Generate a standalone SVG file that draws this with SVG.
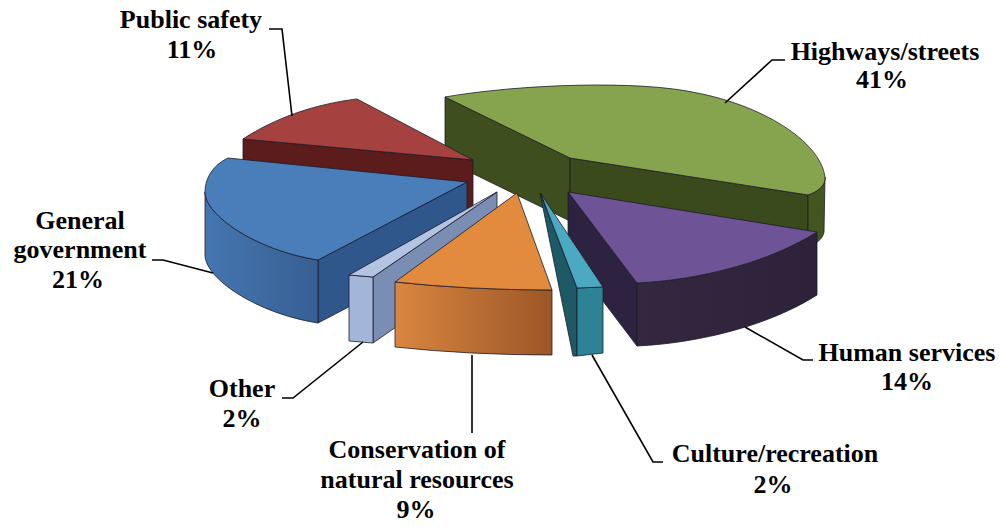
<svg xmlns="http://www.w3.org/2000/svg" width="1003" height="527" viewBox="0 0 1003 527">
<style>
text{font-family:'Liberation Serif','DejaVu Serif',serif;font-weight:bold;font-size:26px;fill:#000;text-anchor:middle}
.edge{stroke:#1c1c28;stroke-width:0.8;stroke-linejoin:round}
.lead{fill:none;stroke:#000;stroke-width:1.6}
</style>
<defs>
<linearGradient id="gOrange" x1="0" y1="0" x2="1" y2="0">
<stop offset="0" stop-color="#d98640"/><stop offset="1" stop-color="#9c5627"/>
</linearGradient>
<linearGradient id="gBlue" x1="0" y1="0" x2="1" y2="0">
<stop offset="0" stop-color="#4576b0"/><stop offset="1" stop-color="#375f93"/>
</linearGradient>
<linearGradient id="gPurple" x1="0" y1="0" x2="1" y2="0">
<stop offset="0" stop-color="#33283f"/><stop offset="1" stop-color="#2d2239"/>
</linearGradient>
</defs>
<rect width="1003" height="527" fill="#fff"/>

<g id="slice-highways">
<path class="edge" fill="#3e4e1f" d="M445,97 L570,158 L570,221 L445,160 Z"/>
<path class="edge" fill="#3b4a1c" d="M570,158 L808,195 L808,258 L570,221 Z"/>
<path class="edge" fill="#44561f" d="M825,177 C826,186 817,192 808,195 L808,246 C816,244 823,239 824,232 Z"/>
<path class="edge" fill="#86a44e" d="M445,97 C520,84 640,80 697,93 C760,105 820,140 825,177 C826,186 817,192 808,195 L570,158 Z"/>
</g>

<g id="slice-public-safety">
<path class="edge" fill="#5b1c1b" d="M243,139 L473,160 L473,223 L243,202 Z"/>
<path class="edge" fill="#a5413e" d="M243,139 C275,118 315,104 357,99 L473,160 Z"/>
</g>

<g id="slice-general-government">
<path class="edge" fill="#30578c" d="M467,182 L318,260 L318,323 L467,245 Z"/>
<path class="edge" fill="url(#gBlue)" d="M205,192 C205,215 255,250 318,260 L318,323 C255,313 205,278 205,255 Z"/>
<path class="edge" fill="#4a7ebb" d="M228,158 C213,165 205,178 205,192 C205,215 255,250 318,260 L467,182 Z"/>
</g>

<g id="slice-other">
<path class="edge" fill="#7a8db2" d="M497,192 L373,277 L373,343 L497,257 Z"/>
<path class="edge" fill="#a3b5d8" d="M349,275 L373,277 L373,343 L349,341 Z"/>
<path class="edge" fill="#b3c4e3" d="M497,192 L349,275 L373,277 Z"/>
</g>

<g id="slice-conservation">
<path class="edge" fill="url(#gOrange)" d="M395,282 Q470,290 552,290 L552,355 Q470,355 395,347 Z"/>
<path class="edge" fill="#e28a3d" d="M517,193 L395,282 Q470,290 552,290 Z"/>
</g>

<g id="slice-human-services">
<path class="edge" fill="#2d2340" d="M568,192 L637,283 L637,346 L568,255 Z"/>
<path class="edge" fill="url(#gPurple)" d="M637,283 C700,280 770,262 817,232 L817,295 C770,325 700,343 637,346 Z"/>
<path class="edge" fill="#6e5396" d="M568,192 L817,232 C770,262 700,280 637,283 Z"/>
</g>

<g id="slice-culture">
<path class="edge" fill="#1e5966" d="M540,193 L577,288 L577,356 L573,356 Z"/>
<path class="edge" fill="#2e8296" d="M577,288 L603,287 L603,353 L577,356 Z"/>
<path class="edge" fill="#4ba9c2" d="M541,194 L577,288 L603,287 Z"/>
</g>

<g id="connectors">
<path class="lead" d="M269,29 L282,29 L292,116"/>
<path class="lead" d="M785,60 L772,60 L725,103"/>
<path class="lead" d="M152,260 L163,260 L213,273"/>
<path class="lead" d="M282,398 L293,398 L363,342"/>
<path class="lead" d="M472,355 L472,433"/>
<path class="lead" d="M592,355 L653,462 L663,462"/>
<path class="lead" d="M745,327 L803,360 L813,360"/>
</g>

<g id="label-public-safety" font-family="Liberation Serif, serif"><text x="191" y="28">Public safety</text><text x="192" y="58">11%</text></g>
<g id="label-highways" font-family="Liberation Serif, serif"><text x="885" y="60">Highways/streets</text><text x="882" y="88">41%</text></g>
<g id="label-general" font-family="Liberation Serif, serif"><text x="80" y="229">General</text><text x="80" y="258">government</text><text x="78" y="288">21%</text></g>
<g id="label-other" font-family="Liberation Serif, serif"><text x="242" y="397">Other</text><text x="242" y="427">2%</text></g>
<g id="label-conservation" font-family="Liberation Serif, serif"><text x="417" y="458">Conservation of</text><text x="417" y="488">natural resources</text><text x="416" y="518">9%</text></g>
<g id="label-culture" font-family="Liberation Serif, serif"><text x="775" y="462">Culture/recreation</text><text x="773" y="493">2%</text></g>
<g id="label-human" font-family="Liberation Serif, serif"><text x="907" y="361">Human services</text><text x="907" y="390">14%</text></g>
</svg>
